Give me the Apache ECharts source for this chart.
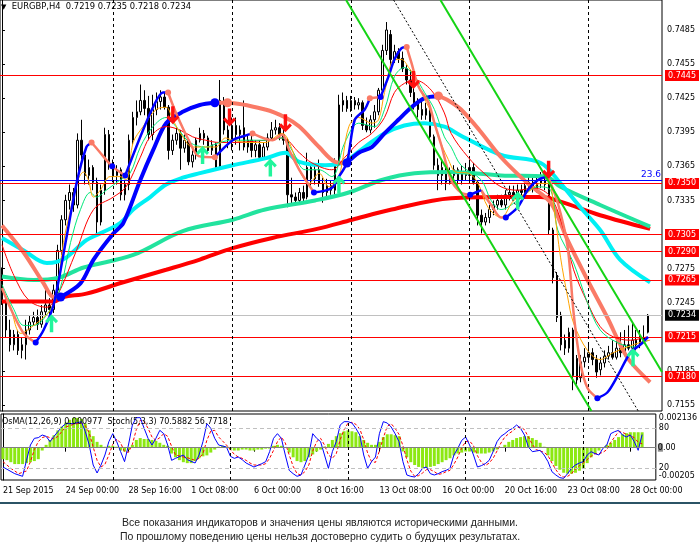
<!DOCTYPE html>
<html><head><meta charset="utf-8">
<script src="https://cdn.jsdelivr.net/npm/echarts@6/dist/echarts.min.js"></script>
<style>html,body{margin:0;padding:0;background:#fff}#c{width:700px;height:552px}</style>
</head><body><div id="c"></div>
<script>
const symbolName = 'EURGBP,H4';
// [open, close, low, high]
const candles = [
[.7270,.7247,.7243,.7276],[.7247,.7221,.7214,.7252],[.7221,.7208,.7202,.7230],[.7208,.7217,.7203,.7221],[.7217,.7203,.7199,.7221],
[.7203,.7208,.7196,.7214],[.7208,.7221,.7195,.7230],[.7221,.7228,.7217,.7234],[.7228,.7232,.7225,.7237],[.7232,.7226,.7221,.7239],
[.7226,.7237,.7223,.7243],[.7237,.7243,.7234,.7258],[.7243,.7239,.7234,.7249],[.7239,.7256,.7236,.7261],[.7256,.7291,.7253,.7296],
[.7291,.7318,.7287,.7322],[.7318,.7335,.7313,.7340],[.7335,.7342,.7327,.7349],[.7342,.7331,.7325,.7346],[.7331,.7388,.7328,.7394],
[.7388,.7375,.7371,.7406],[.7375,.7357,.7349,.7379],[.7357,.7364,.7349,.7371],[.7364,.7351,.7344,.7366],[.7351,.7316,.7303,.7355],
[.7316,.7344,.7313,.7349],[.7344,.7393,.7340,.7399],[.7393,.7366,.7362,.7397],[.7366,.7357,.7351,.7371],[.7357,.7362,.7349,.7366],
[.7362,.7340,.7335,.7364],[.7340,.7349,.7335,.7353],[.7349,.7388,.7344,.7393],[.7388,.7408,.7384,.7413],[.7408,.7413,.7401,.7423],
[.7413,.7423,.7410,.7437],[.7423,.7416,.7410,.7432],[.7416,.7393,.7388,.7427],[.7393,.7415,.7388,.7428],[.7415,.7422,.7410,.7430],
[.7422,.7426,.7415,.7432],[.7426,.7417,.7415,.7430],[.7417,.7379,.7371,.7419],[.7379,.7388,.7375,.7393],[.7388,.7394,.7384,.7399],
[.7394,.7381,.7362,.7397],[.7381,.7388,.7377,.7393],[.7388,.7369,.7366,.7390],[.7369,.7375,.7364,.7379],[.7375,.7388,.7371,.7390],
[.7388,.7394,.7386,.7399],[.7394,.7390,.7384,.7397],[.7390,.7379,.7377,.7392],[.7379,.7384,.7375,.7388],[.7384,.7364,.7362,.7386],
[.7364,.7423,.7362,.7441],[.7423,.7397,.7393,.7426],[.7397,.7388,.7381,.7401],[.7388,.7401,.7379,.7408],[.7401,.7393,.7384,.7408],
[.7393,.7397,.7379,.7401],[.7399,.7382,.7379,.7423],[.7382,.7388,.7377,.7393],[.7388,.7379,.7373,.7393],[.7379,.7384,.7373,.7388],
[.7384,.7373,.7371,.7388],[.7373,.7382,.7371,.7386],[.7382,.7390,.7379,.7394],[.7390,.7397,.7388,.7404],[.7397,.7399,.7393,.7406],
[.7399,.7393,.7388,.7403],[.7393,.7388,.7384,.7399],[.7388,.7340,.7329,.7390],[.7340,.7338,.7331,.7355],[.7338,.7335,.7331,.7342],
[.7335,.7342,.7333,.7346],[.7342,.7337,.7333,.7348],[.7338,.7364,.7336,.7377],[.7364,.7354,.7348,.7368],[.7354,.7362,.7349,.7366],
[.7362,.7350,.7347,.7371],[.7350,.7342,.7333,.7355],[.7342,.7348,.7337,.7354],[.7348,.7344,.7340,.7353],[.7344,.7368,.7340,.7372],
[.7368,.7419,.7366,.7428],[.7419,.7423,.7413,.7430],[.7423,.7416,.7413,.7427],[.7416,.7423,.7413,.7427],[.7423,.7419,.7415,.7426],
[.7419,.7421,.7415,.7425],[.7421,.7401,.7397,.7423],[.7401,.7397,.7395,.7408],[.7397,.7406,.7394,.7410],[.7406,.7413,.7399,.7419],
[.7413,.7432,.7410,.7434],[.7432,.7467,.7428,.7472],[.7467,.7485,.7463,.7492],[.7481,.7459,.7454,.7485],[.7459,.7466,.7456,.7472],
[.7466,.7460,.7456,.7469],[.7460,.7451,.7448,.7466],[.7451,.7441,.7437,.7454],[.7441,.7430,.7426,.7450],[.7430,.7421,.7415,.7434],
[.7421,.7415,.7408,.7425],[.7415,.7410,.7406,.7423],[.7410,.7416,.7406,.7421],[.7416,.7391,.7388,.7421],[.7391,.7366,.7362,.7393],
[.7366,.7357,.7344,.7372],[.7357,.7364,.7349,.7370],[.7364,.7351,.7344,.7366],[.7351,.7357,.7349,.7364],[.7357,.7362,.7349,.7366],
[.7362,.7353,.7349,.7364],[.7353,.7360,.7349,.7366],[.7360,.7357,.7353,.7368],[.7357,.7364,.7351,.7371],[.7364,.7351,.7349,.7368],
[.7351,.7322,.7313,.7353],[.7322,.7316,.7306,.7327],[.7316,.7320,.7313,.7324],[.7320,.7327,.7315,.7331],[.7327,.7331,.7322,.7335],
[.7331,.7335,.7327,.7340],[.7335,.7331,.7329,.7340],[.7331,.7340,.7327,.7344],[.7340,.7342,.7335,.7348],[.7342,.7339,.7335,.7348],
[.7339,.7344,.7335,.7349],[.7344,.7342,.7337,.7349],[.7342,.7348,.7338,.7353],[.7348,.7351,.7344,.7357],[.7351,.7346,.7342,.7355],
[.7346,.7350,.7342,.7355],[.7350,.7353,.7346,.7360],[.7353,.7349,.7344,.7358],[.7349,.7309,.7305,.7351],[.7309,.7267,.7262,.7311],
[.7269,.7232,.7228,.7272],[.7234,.7208,.7203,.7237],[.7212,.7205,.7199,.7217],[.7205,.7219,.7201,.7223],[.7221,.7181,.7168,.7223],
[.7196,.7177,.7173,.7199],[.7179,.7193,.7175,.7199],[.7193,.7197,.7188,.7205],[.7197,.7201,.7193,.7208],[.7201,.7195,.7190,.7205],
[.7195,.7184,.7179,.7199],[.7186,.7192,.7181,.7197],[.7192,.7198,.7188,.7203],[.7198,.7201,.7195,.7207],[.7201,.7197,.7195,.7212],
[.7197,.7205,.7195,.7214],[.7205,.7201,.7197,.7219],[.7201,.7208,.7198,.7221],[.7208,.7205,.7203,.7225],[.7205,.7212,.7203,.7227],
[.7212,.7208,.7203,.7221],[.7208,.7214,.7205,.7221],[.7214,.7212,.7210,.7225],[.7219,.7234,.7218,.7235]
];
const timeLabelIdx = [0,16,32,48,64,80,96,112,128,144,160];
const timeLabels = ['21 Sep 2015','24 Sep 00:00','28 Sep 16:00','1 Oct 08:00','6 Oct 00:00','8 Oct 16:00','13 Oct 08:00','16 Oct 00:00','20 Oct 16:00','23 Oct 08:00','28 Oct 00:00'];
const priceTicks = [0.7155,0.7185,0.7215,0.7245,0.7275,0.7305,0.7335,0.7365,0.7395,0.7425,0.7455,0.7485];
const redLevels = [0.7445,0.7350,0.7305,0.7290,0.7265,0.7215,0.7180];
const fiboLevel = 0.73525, fiboLabel = '23.6';
const currentPrice = 0.7234;
const dayLines = [28,58,88,118,148];

const redMA = [[0,.7246],[13,.7246],[15.5,.7250],[21.3,.7253],[30.6,.7263],[41.4,.7274],[49.9,.7283],[58.2,.7293],[68.2,.7302],[79.5,.7310],[88.3,.7318],[98.3,.7327],[113.3,.7337],[125.9,.7338],[135.9,.7338],[140.9,.7334],[150.9,.7322],[163.5,.7310]];
const aquaMA = [[0,.7268],[8,.7265],[14.3,.7267],[20.6,.7276],[33.1,.7287],[45.6,.7308],[58.2,.7318],[66.4,.7327],[79,.7335],[87.5,.7342],[95.8,.7353],[104.1,.7359],[113.3,.7360],[125.9,.7357],[137.2,.7356],[140.9,.7347],[150.9,.7331],[163.5,.7312]];
const cyanMA = [[0,.7302],[5.5,.7291],[11.3,.7280],[13.8,.7281],[16.3,.7285],[21.3,.7300],[24.8,.7306],[29.8,.7315],[33.1,.7327],[37.4,.7338],[41.4,.7349],[45.6,.7355],[49.9,.7359],[58.2,.7366],[66.4,.7372],[71.5,.7377],[75,.7369],[81.5,.7366],[85.8,.7368],[91.5,.7382],[96.5,.7394],[101.5,.7401],[106.6,.7403],[111.6,.7400],[115.8,.7392],[125.9,.7375],[135.9,.7368],[140.9,.7350],[145.9,.7329],[150.9,.7309],[155.9,.7283],[163.5,.7263]];
const orangeMA = [[0,.7256],[1.8,.7245],[4.8,.7218],[8,.7225],[10.5,.7232],[12.3,.7239],[13.8,.7254],[15.5,.7298],[17.3,.7327],[18.8,.7350],[20.6,.7360],[21.8,.7353],[23.1,.7338],[24.8,.7344],[27.3,.7356],[29.8,.7356],[31.3,.7353],[33.1,.7386],[35.6,.7400],[38.9,.7415],[41.4,.7417],[43.1,.7406],[45.6,.7391],[48.1,.7382],[51.4,.7382],[53.9,.7382],[56.4,.7390],[58.2,.7388],[62.4,.7386],[66.4,.7386],[70.7,.7394],[72.5,.7386],[75,.7362],[77.5,.7350],[80,.7359],[82.5,.7347],[85,.7356],[87.5,.7400],[90,.7408],[93.3,.7403],[95,.7406],[96.5,.7430],[99,.7459],[100.8,.7459],[102.6,.7452],[104.1,.7444],[105.8,.7430],[108.3,.7412],[110.1,.7391],[112.6,.7371],[114.5,.7360],[117.6,.7359],[120.1,.7350],[122.6,.7329],[125.9,.7320],[129.1,.7335],[132.6,.7342],[135.9,.7350],[137.9,.7350],[139.2,.7329],[140.9,.7285],[142.7,.7250],[144.2,.7227],[147.7,.7203],[150.9,.7195],[154.2,.7201],[157.7,.7206],[161,.7210],[163.5,.7212]];
const greenMA = [[0,.7261],[3,.7239],[5.5,.7225],[8,.7225],[11.8,.7237],[14.8,.7259],[17.3,.7298],[19.8,.7327],[22.3,.7342],[23.8,.7338],[26.3,.7344],[29.8,.7353],[32.3,.7359],[34.9,.7382],[38.1,.7400],[41.4,.7408],[43.9,.7400],[47.4,.7386],[51.4,.7382],[54.9,.7386],[58.2,.7388],[66.4,.7388],[70.7,.7390],[73.2,.7379],[76.5,.7362],[80,.7362],[83.2,.7356],[86.5,.7386],[90,.7403],[94,.7400],[96.5,.7415],[99,.7444],[101.5,.7452],[104.1,.7444],[106.6,.7430],[109.1,.7415],[111.6,.7391],[113.3,.7382],[115.8,.7366],[120.9,.7353],[123.4,.7335],[125.9,.7327],[130.1,.7335],[135.2,.7347],[138.4,.7344],[140.2,.7309],[144.2,.7280],[147.7,.7245],[150.9,.7221],[155.2,.7210],[159.2,.7206],[163,.7212]];
const redThinMA = [[0,.7296],[3,.7269],[6.8,.7247],[11.3,.7241],[13.8,.7250],[18.8,.7291],[23.1,.7327],[28.1,.7338],[31.3,.7347],[34.9,.7373],[37.4,.7391],[41.4,.7400],[44.9,.7397],[48.1,.7391],[51.4,.7388],[54.9,.7386],[58.2,.7386],[66.4,.7388],[70.7,.7390],[75,.7377],[78.2,.7368],[83.2,.7362],[86.5,.7373],[90,.7386],[93.3,.7394],[96.5,.7408],[99,.7430],[101.5,.7438],[104.1,.7441],[108.3,.7432],[111.6,.7412],[113.3,.7394],[117.6,.7373],[121.6,.7359],[125.9,.7347],[130.1,.7344],[134.2,.7346],[138.4,.7338],[141.7,.7309],[144.2,.7274],[147.7,.7245],[150.9,.7224],[154.2,.7215],[158.5,.7212],[162.7,.7215]];

const slowDownSegs = [
 [[0,.7313],[5.5,.7289],[10.5,.7262],[13,.7250],[14.8,.7250]],
 [[53.7,.7421],[56.9,.7421],[66.4,.7415],[71.5,.7408],[75,.7400],[80,.7382],[84,.7369],[87,.7368]],
 [[110.1,.7427],[112.6,.7423],[115.8,.7415],[120.4,.7397],[125.9,.7373],[132.6,.7350],[138.4,.7333],[142.7,.7300],[147.7,.7265],[152.7,.7232],[157.7,.7197],[163.5,.7175]]
];
const slowUpSegs = [
 [[14.8,.7250],[19.8,.7262],[23.1,.7283],[28.1,.7306],[30.6,.7315],[34.9,.7353],[38.1,.7379],[41.4,.7403],[45.6,.7413],[49.9,.7419],[53.7,.7421]],
 [[87,.7368],[90,.7377],[93.3,.7382],[96.5,.7394],[100,.7406],[103.3,.7417],[106.6,.7425],[110.1,.7427]]
];
const fastDownSegs = [
 [[0,.7258],[2.3,.7239],[5.5,.7218],[8.5,.7210]],
 [[22.6,.7386],[24.8,.7377],[27.8,.7365],[31.1,.7357]],
 [[41.9,.7430],[43.9,.7412],[47.4,.7386],[49.6,.7374],[53.7,.7373]],
 [[63.2,.7394],[68.2,.7388],[70.7,.7393],[72.5,.7379],[75,.7362],[78.7,.7342]],
 [[92.8,.7425],[95.5,.7426]],
 [[102.1,.7470],[103.3,.7456],[105.1,.7435],[107.6,.7421],[109.1,.7403],[110.8,.7384],[113.3,.7353],[115.8,.7342],[118.1,.7340]],
 [[120.9,.7344],[123.4,.7331],[125.9,.7320],[127.1,.7320]],
 [[137.7,.7356],[140.2,.7333],[142.7,.7294],[144.2,.7236],[145.9,.7192],[147.7,.7170],[150.2,.7161]]
];
const fastUpSegs = [
 [[8.5,.7210],[10.5,.7221],[13,.7243],[16.3,.7303],[18.8,.7350],[21.3,.7382],[22.6,.7386]],
 [[31.1,.7357],[34.9,.7391],[38.1,.7417],[40.6,.7430],[41.9,.7430]],
 [[53.7,.7373],[58.2,.7388],[61.4,.7392],[63.2,.7394]],
 [[78.7,.7342],[83.2,.7346],[85,.7356],[87,.7368],[89,.7406],[91.5,.7415],[92.8,.7425]],
 [[95.5,.7426],[97.5,.7444],[99,.7459],[100.8,.7469],[102.1,.7470]],
 [[118.1,.7340],[120.9,.7344]],
 [[127.1,.7320],[130.1,.7329],[132.6,.7344],[135.2,.7353],[137.7,.7356]],
 [[150.2,.7161],[152.7,.7166],[155.2,.7180],[158.5,.7201],[161,.7208],[163,.7215]]
];
const slowDotsBlue = [[14.8,.7250],[53.7,.7421],[87,.7368]];
const slowDotsSalmon = [[56.9,.7421],[110.1,.7427]];
const fastDotsBlue = [[8.5,.7210],[27.8,.7365],[31.1,.7357],[78.7,.7342],[95.5,.7426],[118.1,.7340],[127.1,.7320],[150.2,.7161]];
const fastDotsSalmon = [[22.6,.7386],[41.9,.7430],[53.7,.7373],[63.2,.7394],[92.8,.7425],[102.1,.7470]];
const upArrows = [[12.5,.7227],[50.6,.7375],[67.7,.7364],[85,.7349],[130.1,.7335],[159.2,.7197]];
const downArrows = [[43.1,.7410],[57.4,.7408],[71.5,.7403],[103.8,.7441],[137.9,.7362]];
const channelLower = [[86.8,.75114],[148.7,.71497]];
const channelUpper = [[110.6,.75114],[166.5,.71840]];
const channelMid = [[98.8,.75114],[160.5,.71497]];

const osma = [
-0.00073,-0.00079,-0.00092,-0.00104,-0.00104,-0.00104,-0.00098,-0.00092,-0.00085,-0.00073,
-0.00018,0.00018,0.00049,0.00079,0.00110,0.00134,0.00159,0.00177,0.00189,0.00189,
0.00183,0.00153,0.00110,0.00073,0.00037,0.00018,0.00006,0.00012,0.00012,0.00006,
-0.00018,-0.00024,-0.00012,0.00018,0.00049,0.00061,0.00055,0.00055,0.00049,0.00043,
0.00031,0.00018,0.00012,-0.00037,-0.00061,-0.00079,-0.00092,-0.00098,-0.00098,-0.00085,
-0.00067,-0.00055,-0.00049,-0.00031,-0.00012,0.00006,0.00012,0.00006,-0.00012,-0.00018,
-0.00018,-0.00012,-0.00012,-0.00018,-0.00018,-0.00012,-0.00012,-0.00006,-0.00006,0.00012,
0.00018,0.00012,0.00002,-0.00031,-0.00061,-0.00085,-0.00092,-0.00085,-0.00061,-0.00043,
-0.00024,-0.00012,0.00006,0.00024,0.00049,0.00073,0.00092,0.00104,0.00110,0.00104,
0.00098,0.00073,0.00049,0.00031,0.00018,0.00018,0.00037,0.00067,0.00085,0.00085,
0.00079,0.00073,-0.00024,-0.00061,-0.00092,-0.00110,-0.00122,-0.00128,-0.00128,-0.00122,
-0.00116,-0.00104,-0.00092,-0.00079,-0.00067,-0.00049,-0.00037,-0.00031,-0.00024,-0.00024,
-0.00031,-0.00037,-0.00037,-0.00037,-0.00031,-0.00024,-0.00012,0.00002,0.00018,0.00037,
0.00049,0.00061,0.00067,0.00073,0.00073,0.00061,0.00049,0.00031,0.00006,-0.00049,
-0.00085,-0.00116,-0.00140,-0.00159,-0.00165,-0.00165,-0.00159,-0.00146,-0.00134,-0.00098,
-0.00061,-0.00037,-0.00018,0.00002,0.00018,0.00031,0.00049,0.00067,0.00085,0.00092,
0.00098,0.00098,0.00098,0.000977
];
const stochMain = [[0,22],[3,12],[5,8],[6,32],[7,55],[8,65],[9,66],[10,70],[11,68],[12,60],[13,68],[14,75],[15,82],[16,87],[18,87],[20,90],[21,75],[22,55],[23,25],[24,13],[25,25],[26,40],[27,60],[28,72],[29,60],[30,45],[31,30],[32,55],[33,85],[34,96],[35,96],[36,80],[37,65],[38,55],[39,65],[40,77],[41,72],[42,55],[43,32],[44,35],[46,40],[47,33],[49,28],[50,40],[51,60],[52,87],[53,80],[54,65],[55,55],[57,52],[58,38],[59,35],[60,37],[61,33],[62,28],[63,25],[64,22],[66,27],[67,30],[68,45],[69,65],[70,72],[71,65],[72,40],[73,17],[74,12],[75,8],[76,10],[77,25],[78,40],[79,72],[80,65],[81,60],[82,40],[83,20],[84,45],[85,60],[86,85],[87,90],[88,90],[89,88],[90,80],[91,70],[92,40],[93,20],[94,30],[95,37],[96,72],[97,90],[98,88],[99,82],[100,72],[101,60],[102,30],[103,10],[104,8],[105,7],[106,12],[107,20],[108,22],[109,12],[110,10],[111,12],[112,15],[113,17],[114,20],[115,40],[116,50],[117,62],[118,67],[119,55],[120,40],[121,22],[122,24],[123,27],[124,32],[125,45],[126,60],[127,68],[128,72],[129,77],[130,80],[131,85],[132,80],[133,70],[134,52],[135,45],[136,46],[137,47],[138,40],[139,30],[140,15],[141,10],[142,6],[143,5],[144,12],[145,20],[146,25],[147,28],[148,30],[149,40],[150,45],[151,42],[152,40],[153,50],[154,55],[155,72],[156,75],[157,77],[158,70],[159,67],[160,70],[161,60],[162,47],[163,70.5882]];
const stochSignal = [[0,30],[2,20],[4,12],[6,16],[7,30],[8,48],[9,60],[10,66],[11,68],[12,66],[13,64],[14,68],[15,75],[16,82],[18,86],[20,88],[21,84],[22,73],[23,52],[24,32],[25,22],[26,26],[27,40],[28,56],[29,64],[30,58],[31,45],[32,44],[33,56],[34,78],[35,92],[36,90],[37,80],[38,67],[39,62],[40,66],[41,72],[42,68],[43,53],[44,40],[46,37],[47,36],[49,32],[50,35],[51,42],[52,62],[53,76],[54,77],[55,67],[57,55],[58,48],[59,41],[60,37],[61,35],[62,32],[63,28],[64,25],[66,25],[67,27],[68,35],[69,47],[70,60],[71,67],[72,58],[73,40],[74,23],[75,12],[76,10],[77,15],[78,25],[79,46],[80,60],[81,65],[82,55],[83,40],[84,35],[85,42],[86,63],[87,78],[88,88],[89,89],[90,86],[91,79],[92,63],[93,43],[94,30],[95,29],[96,46],[97,66],[98,83],[99,87],[100,80],[101,71],[102,54],[103,33],[104,16],[105,8],[106,9],[107,13],[108,18],[109,18],[110,15],[111,11],[112,12],[113,15],[114,17],[115,26],[116,37],[117,51],[118,60],[119,61],[120,54],[121,39],[122,29],[123,24],[124,28],[125,35],[126,46],[127,58],[128,67],[129,72],[130,76],[131,81],[132,82],[133,78],[134,67],[135,56],[136,48],[137,46],[138,44],[139,39],[140,28],[141,18],[142,10],[143,7],[144,8],[145,12],[146,19],[147,24],[148,28],[149,33],[150,38],[151,42],[152,42],[153,44],[154,48],[155,59],[156,67],[157,75],[158,74],[159,71],[160,69],[161,66],[162,59],[163,56.7718]];
const disclaimer = ['Все показания индикаторов и значения цены являются историческими данными.','По прошлому поведению цены нельзя достоверно судить о будущих результатах.'];

const N = 167;
const PRICE_MIN = 0.71497, PRICE_MAX = 0.75114;
const OS_MIN = -0.00205, OS_MAX = 0.002136;
const FONT = 'DejaVu Sans';
const SALMON = '#FA7A66', BLUE = '#0000FF';

const last = candles[candles.length - 1];
const header = '{t|▼}  ' + symbolName + '  ' + [last[0], last[3], last[2], last[1]].map(v => v.toFixed(4)).join(' ');
const indHeader = 'OsMA(12,26,9) ' + osma[osma.length - 1].toFixed(6) + '  Stoch(5,3,3) ' +
  stochMain[stochMain.length - 1][1].toFixed(4) + ' ' + stochSignal[stochSignal.length - 1][1].toFixed(4);

function line(data, color, width, extra) {
  return Object.assign({type: 'line', xAxisIndex: 1, yAxisIndex: 0, data: data, showSymbol: false, symbol: 'none',
    smooth: 0.35, lineStyle: {color: color, width: width}, silent: true, z: 3}, extra || {});
}
const labelBox = {show: true, position: 'end', distance: 3, fontSize: 8, fontFamily: FONT, padding: [1, 3, 0, 3], lineHeight: 10,
  formatter: p => Number(p.value).toFixed(4)};
const levelData = redLevels.map(v => ({yAxis: v, lineStyle: {color: '#FF0000', type: 'solid', width: 1},
  label: Object.assign({}, labelBox, {backgroundColor: '#FF0000', color: '#fff'})}));
levelData.push({yAxis: currentPrice, lineStyle: {color: '#C0C0C0', type: 'solid', width: 1},
  label: Object.assign({}, labelBox, {backgroundColor: '#000', color: '#fff'})});
levelData.push({yAxis: fiboLevel, lineStyle: {color: '#0000FF', type: 'solid', width: 1},
  label: {show: true, position: 'insideEndTop', distance: 1, formatter: fiboLabel, color: '#0000FF', fontSize: 9, fontFamily: FONT}});

const arrowPath = 'path://M6,0 L12,6 L10,8 L7.6,5.6 L7.6,16 L4.4,16 L4.4,5.6 L2,8 L0,6 Z';

const series = [
  {type: 'candlestick', xAxisIndex: 0, yAxisIndex: 0, data: candles, barWidth: 2, silent: true, z: 2,
    itemStyle: {color: '#fff', color0: '#000', borderColor: '#000', borderColor0: '#000', borderWidth: 1},
    markLine: {silent: true, precision: 6, symbol: ['none', 'none'], animation: false, data: levelData}},
  line(redMA, '#FF0000', 4, {markLine: {silent: true, precision: 6, symbol: ['none', 'none'], animation: false, label: {show: false},
    lineStyle: {color: '#000', type: [3, 3], width: 1}, data: dayLines.map(x => ({xAxis: x}))}}),
  line(aquaMA, '#22E39E', 4),
  line(cyanMA, '#00F0F4', 4),
];
slowDownSegs.forEach(s => series.push(line(s, SALMON, 4, {smooth: 0.3, z: 4})));
slowUpSegs.forEach(s => series.push(line(s, BLUE, 4, {smooth: 0.3, z: 4})));
series.push(line(redThinMA, '#FF0000', 1, {z: 5}));
series.push(line(greenMA, '#00E87A', 1, {z: 5}));
series.push(line(orangeMA, '#FFA500', 1, {z: 5}));
fastDownSegs.forEach(s => series.push(line(s, SALMON, 2.5, {smooth: 0.3, z: 6})));
fastUpSegs.forEach(s => series.push(line(s, BLUE, 2.5, {smooth: 0.3, z: 6})));
series.push(line(channelLower, '#14D414', 2, {smooth: false, z: 6}));
series.push(line(channelUpper, '#14D414', 2, {smooth: false, z: 6}));
series.push(line(channelMid, '#000', 1, {smooth: false, z: 6, lineStyle: {color: '#000', width: 1, type: [2, 2]}}));
const scatter = (data, color, size, extra) => Object.assign({type: 'scatter', xAxisIndex: 1, yAxisIndex: 0, data: data,
  symbolSize: size, itemStyle: {color: color, opacity: 1}, silent: true, z: 7}, extra || {});
series.push(scatter(slowDotsBlue, BLUE, 9));
series.push(scatter(slowDotsSalmon, SALMON, 9));
series.push(scatter(fastDotsBlue, BLUE, 6));
series.push(scatter(fastDotsSalmon, SALMON, 6));
series.push(scatter(upArrows, '#22F59C', [13, 18], {symbol: arrowPath, z: 8}));
series.push(scatter(downArrows, '#FF1010', [13, 18], {symbol: arrowPath, symbolRotate: 180, z: 8}));
// indicator panel
series.push({type: 'bar', xAxisIndex: 2, yAxisIndex: 2, data: osma.map((v, i) => [i, v]), barWidth: 3,
  itemStyle: {color: '#8CE812'}, silent: true, z: 2,
  markLine: {silent: true, precision: 6, symbol: ['none', 'none'], animation: false, data: [
    {yAxis: 0, lineStyle: {color: '#808080', type: 'solid', width: 1},
      label: {show: true, position: 'end', distance: 2, formatter: '{g|0}{n|.00}',
        rich: {g: {backgroundColor: '#8A8A8A', color: '#000', fontSize: 8, fontFamily: FONT, lineHeight: 11},
               n: {color: '#000', fontSize: 8, fontFamily: FONT, lineHeight: 11}}}}
  ].concat(dayLines.map(x => ({xAxis: x, label: {show: false}, lineStyle: {color: '#000', type: [3, 3], width: 1}})))}});
series.push({type: 'line', xAxisIndex: 2, yAxisIndex: 1, data: stochMain, showSymbol: false, symbol: 'none',
  lineStyle: {color: '#0000FF', width: 1}, silent: true, z: 4,
  markLine: {silent: true, symbol: ['none', 'none'], animation: false, label: {show: false},
    lineStyle: {color: '#C0C0C0', type: [4, 3], width: 1}, data: [{yAxis: 80}, {yAxis: 20}]}});
series.push({type: 'line', xAxisIndex: 2, yAxisIndex: 1, data: stochSignal, showSymbol: false, symbol: 'none',
  lineStyle: {color: '#FF0000', width: 1, type: [3, 2]}, silent: true, z: 3});

const axisFont = {fontSize: 8, fontFamily: FONT, color: '#000'};
const option = {
  animation: false,
  backgroundColor: '#fff',
  textStyle: {fontFamily: FONT},
  title: [
    {text: header, left: 1, top: 3, padding: 0,
      textStyle: {fontSize: 8.4, fontWeight: 'normal', color: '#000', fontFamily: FONT, rich: {t: {fontSize: 7, color: '#000'}}}},
    {text: indHeader, left: 2, top: 418, padding: 0, textStyle: {fontSize: 8, fontWeight: 'normal', color: '#000', fontFamily: FONT}}
  ],
  grid: [
    {left: -4, right: 38, top: 0, height: 411, show: true, borderColor: '#000', borderWidth: 1, containLabel: false},
    {left: -4, right: 38, top: 414, height: 66, show: true, borderColor: '#000', borderWidth: 1, containLabel: false}
  ],
  xAxis: [
    {type: 'category', gridIndex: 0, data: Array.from({length: N}, (_, i) => i), boundaryGap: true, show: false},
    {type: 'value', gridIndex: 0, min: -0.5, max: N - 0.5, show: false},
    {type: 'value', gridIndex: 1, min: -0.5, max: N - 0.5, position: 'bottom',
      axisLine: {show: false}, splitLine: {show: false},
      axisTick: {show: true, customValues: timeLabelIdx, length: 4, lineStyle: {color: '#000'}},
      axisLabel: Object.assign({customValues: timeLabelIdx, formatter: v => timeLabels[timeLabelIdx.indexOf(v)],
        align: 'left', margin: 7}, axisFont)}
  ],
  yAxis: [
    {type: 'value', gridIndex: 0, position: 'right', min: PRICE_MIN, max: PRICE_MAX, scale: true,
      axisLine: {show: true, lineStyle: {color: '#000'}}, splitLine: {show: false},
      axisTick: {show: true, customValues: priceTicks, length: 3, lineStyle: {color: '#000'}},
      axisLabel: Object.assign({customValues: priceTicks, formatter: v => v.toFixed(4), margin: 5}, axisFont)},
    {type: 'value', gridIndex: 1, position: 'right', min: 2.5, max: 101.5,
      axisLine: {show: true, lineStyle: {color: '#000'}}, splitLine: {show: false}, axisTick: {show: false},
      axisLabel: Object.assign({customValues: [20, 80], margin: 3}, axisFont)},
    {type: 'value', gridIndex: 1, position: 'right', min: OS_MIN, max: OS_MAX,
      axisLine: {show: false}, splitLine: {show: false}, axisTick: {show: false},
      axisLabel: Object.assign({customValues: [OS_MAX], formatter: v => v.toFixed(6), verticalAlign: 'top', margin: 3}, axisFont)},
    {type: 'value', gridIndex: 1, position: 'right', min: OS_MIN, max: OS_MAX,
      axisLine: {show: false}, splitLine: {show: false}, axisTick: {show: false},
      axisLabel: Object.assign({customValues: [OS_MIN], formatter: v => v.toFixed(5), verticalAlign: 'bottom', margin: 3}, axisFont)}
  ],
  graphic: [
    {type: 'rect', shape: {x: 0, y: 502, width: 700, height: 2}, style: {fill: '#2B5365'}, silent: true},
    {type: 'text', x: 320, y: 523, style: {text: disclaimer[0], fill: '#222', font: '10.5px "Liberation Sans"', textAlign: 'center', textVerticalAlign: 'middle'}, silent: true},
    {type: 'text', x: 320, y: 537, style: {text: disclaimer[1], fill: '#222', font: '10.5px "Liberation Sans"', textAlign: 'center', textVerticalAlign: 'middle'}, silent: true}
  ],
  series: series
};
const chart = echarts.init(document.getElementById('c'), null, {renderer: 'canvas'});
chart.setOption(option);
</script>
</body></html>
